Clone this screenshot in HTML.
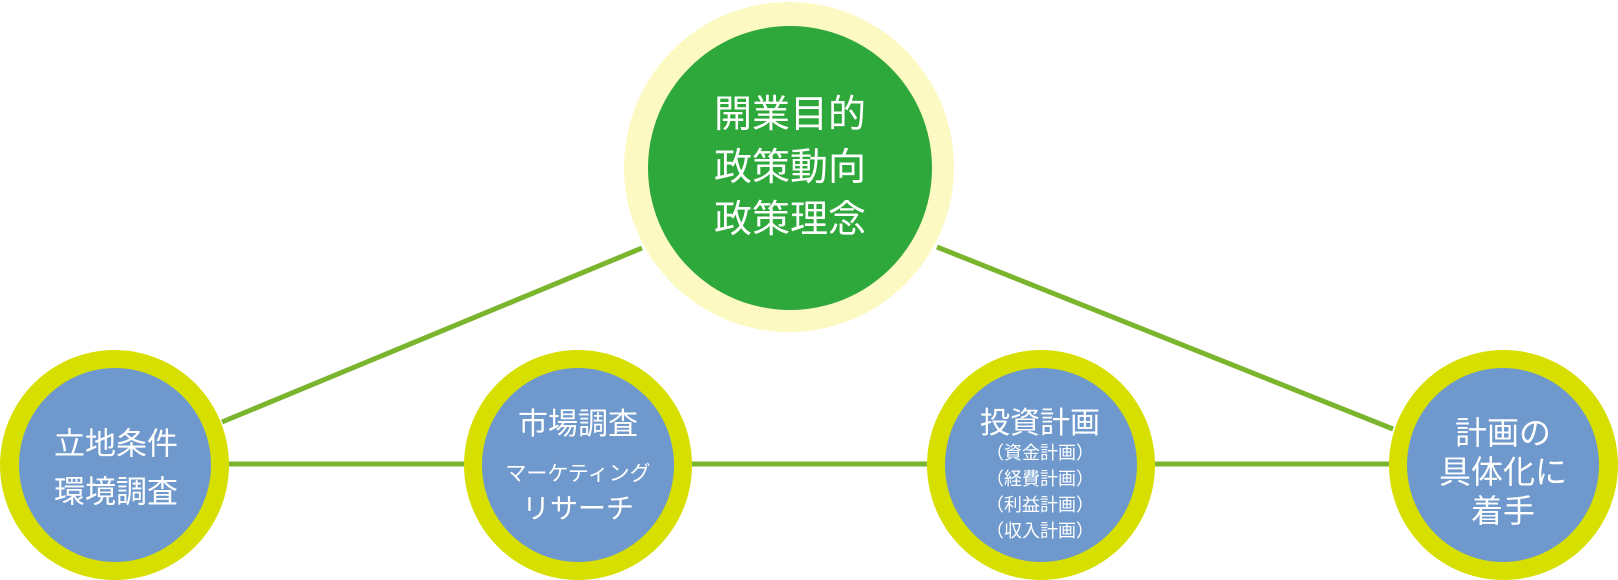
<!DOCTYPE html>
<html><head><meta charset="utf-8"><style>
html,body{margin:0;padding:0;background:#fff;width:1618px;height:580px;overflow:hidden;position:relative}
.c{position:absolute;border-radius:50%}
.t{position:absolute;color:#fff;font-family:"Liberation Sans","Noto Sans CJK JP",sans-serif;text-align:center;white-space:nowrap;transform:translate(-50%,-50%);line-height:1}
</style></head><body>
<svg width="1618" height="580" style="position:absolute;left:0;top:0">
<g stroke="#7ab52d" stroke-width="5">
<line x1="114" y1="464" x2="1503" y2="464"/>
<line x1="642" y1="248" x2="222" y2="422"/>
<line x1="937" y1="247" x2="1393" y2="429"/>
</g></svg>
<div class="c" style="left:624px;top:2px;width:330px;height:330px;background:#fdf9c2"></div>
<div class="c" style="left:648px;top:26px;width:284px;height:284px;background:#2ea83a"></div>
<div class="c" style="left:0;top:350px;width:229px;height:230px;background:#d7df00"></div>
<div class="c" style="left:19px;top:368px;width:192px;height:194px;background:#6f99cc"></div>
<div class="c" style="left:464px;top:350px;width:228px;height:230px;background:#d7df00"></div>
<div class="c" style="left:482px;top:368px;width:192px;height:194px;background:#6f99cc"></div>
<div class="c" style="left:927px;top:350px;width:228px;height:230px;background:#d7df00"></div>
<div class="c" style="left:945px;top:368px;width:192px;height:194px;background:#6f99cc"></div>
<div class="c" style="left:1389px;top:350px;width:229px;height:230px;background:#d7df00"></div>
<div class="c" style="left:1407px;top:368px;width:192px;height:194px;background:#6f99cc"></div>

<div class="t" style="left:790px;top:115px;font-size:38px">開業目的</div>
<div class="t" style="left:790px;top:168px;font-size:38px">政策動向</div>
<div class="t" style="left:790px;top:220px;font-size:38px">政策理念</div>

<div class="t" style="left:116px;top:444px;font-size:31px">立地条件</div>
<div class="t" style="left:116px;top:492px;font-size:31px">環境調査</div>

<div class="t" style="left:578px;top:425px;font-size:30px">市場調査</div>
<div class="t" style="left:578px;top:474px;font-size:21px">マーケティング</div>
<div class="t" style="left:578px;top:509px;font-size:28px">リサーチ</div>

<div class="t" style="left:1040px;top:424px;font-size:30px">投資計画</div>
<div class="t" style="left:1040px;top:453px;font-size:18px">（資金計画）</div>
<div class="t" style="left:1040px;top:479px;font-size:18px">（経費計画）</div>
<div class="t" style="left:1040px;top:505px;font-size:18px">（利益計画）</div>
<div class="t" style="left:1040px;top:531px;font-size:18px">（収入計画）</div>

<div class="t" style="left:1503px;top:433px;font-size:32px">計画の</div>
<div class="t" style="left:1503px;top:472px;font-size:32px">具体化に</div>
<div class="t" style="left:1503px;top:511px;font-size:32px">着手</div>
</body></html>
